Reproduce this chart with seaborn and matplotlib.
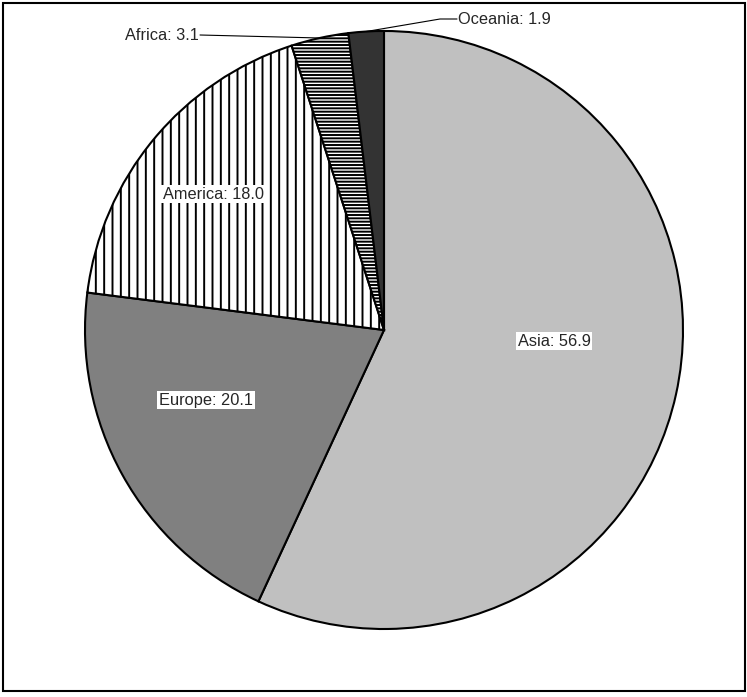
import matplotlib
matplotlib.use("Agg")
import matplotlib.pyplot as plt
import seaborn as sns
import numpy as np
from matplotlib.patches import Rectangle

# Data
regions = ["Asia", "Europe", "America", "Africa", "Oceania"]
shares = [56.9, 20.1, 18.0, 3.1, 1.9]

# Styles
face_colors = ["#c0c0c0", "#808080", "#ffffff", "#ffffff", "#333333"]
hatches = ["", "", "||", "-----", ""]

sns.set_theme(style="white")
plt.rcParams["font.family"] = ["Liberation Sans", "DejaVu Sans"]
plt.rcParams["hatch.linewidth"] = 1.4
plt.rcParams["hatch.color"] = "black"

W, H = 747, 697
fig = plt.figure(figsize=(W / 100, H / 100), dpi=100)
ax = fig.add_axes([0, 0, 1, 1])

R = 299.0
cx, cy = 384.0, 330.0  # pixel position of pie centre (from top-left)

wedges, _ = ax.pie(shares, colors=face_colors, startangle=90, counterclock=False,
                   wedgeprops=dict(edgecolor="black", linewidth=1.5))
for w, h in zip(wedges, hatches):
    if h:
        w.set_hatch(h)

ax.set_xlim(-cx / R, (W - cx) / R)
ax.set_ylim(-(H - cy) / R, cy / R)
ax.set_aspect("auto")
ax.axis("off")

def px(x, y):
    return ((x - cx) / R, (cy - y) / R)

FS = 11.8
box = dict(boxstyle="square,pad=0.12", facecolor="white", edgecolor="none")
inside_pos = {"Asia": px(554, 341), "Europe": px(206, 400), "America": px(213, 194)}
for name, val in zip(regions, shares):
    if name in inside_pos:
        x, y = inside_pos[name]
        ax.text(x, y, f"{name}: {val:.1f}", ha="center", va="center",
                fontsize=FS, bbox=box, zorder=5)

# Leader-line labels for small slices
def mid_point(w):
    a = np.deg2rad((w.theta1 + w.theta2) / 2)
    return np.cos(a), np.sin(a)

i_af = regions.index("Africa")
mx, my = mid_point(wedges[i_af])
tx, ty = px(200, 35)
ax.plot([tx, mx], [ty, my], color="black", lw=0.8, clip_on=False, zorder=4)
ax.text(tx - 0.004, ty, f"Africa: {shares[i_af]:.1f}", ha="right", va="center", fontsize=FS)

i_oc = regions.index("Oceania")
mx, my = mid_point(wedges[i_oc])
ex, ey = px(440, 19)
tx, ty = px(457, 19)
ax.plot([mx, ex, tx], [my, ey, ty], color="black", lw=0.8, clip_on=False, zorder=4)
ax.text(tx + 0.004, ty, f"Oceania: {shares[i_oc]:.1f}", ha="left", va="center", fontsize=FS)

# Figure border
fig.patches.append(Rectangle((3 / W, 6 / H), 742 / W, 688 / H, transform=fig.transFigure,
                             fill=False, edgecolor="black", linewidth=1.5))

fig.savefig("out.png", dpi=100)
